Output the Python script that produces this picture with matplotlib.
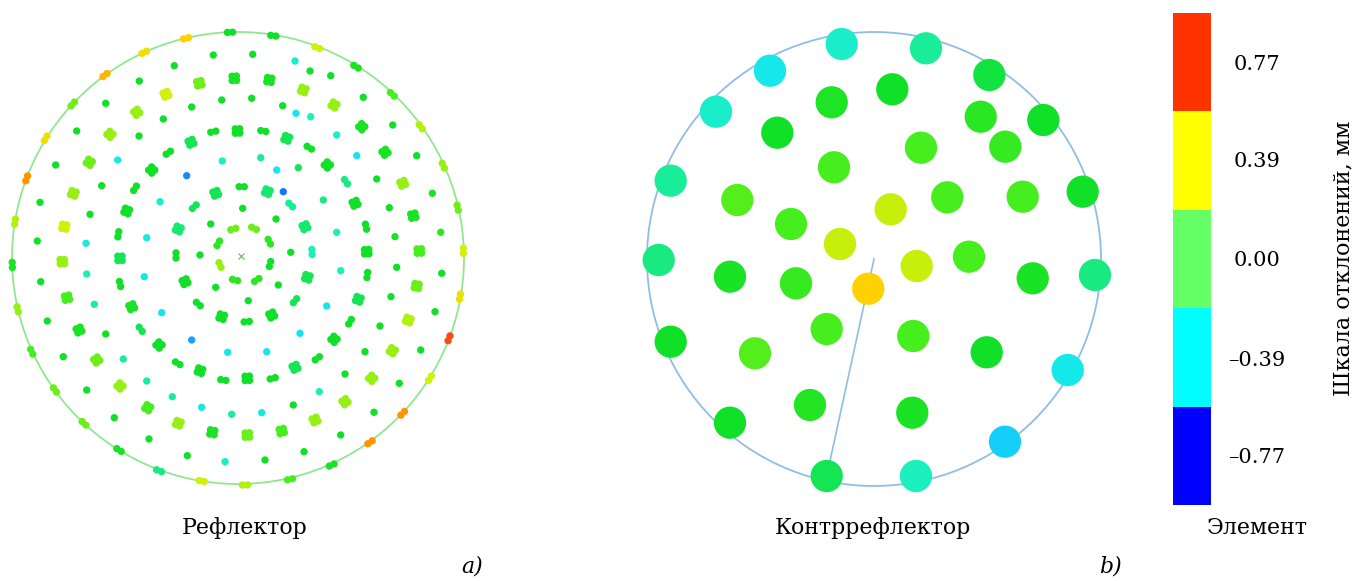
import numpy as np
import matplotlib
matplotlib.use("Agg")
import matplotlib.pyplot as plt
from matplotlib.colors import LinearSegmentedColormap, ListedColormap, BoundaryNorm, Normalize
from matplotlib.cm import ScalarMappable
from matplotlib.patches import Circle

W, H = 1367, 581
plt.rcParams['font.family'] = ['DejaVu Serif']

# ---------------- data (coordinates in units of the source picture) ----------------
# Reflector: single elements (x, y, deviation mm)
refl_single_x = [242.7, 210.7, 276, 200, 290.7, 215.7, 278.3, 248.3, 283.3,
                 222.3, 186.7, 160, 146.7, 260.7, 276.7, 298.3, 323.3, 336.7,
                 144.3, 161.7, 191.7, 227.7, 340.7, 326.7, 300, 266.7,
                 221.7, 191.7, 163.3, 139, 117.7, 101.7, 90, 86,
                 251.7, 282.7, 296, 310.7, 336.7, 356.7, 376.7, 389.3, 395,
                 86.7, 94.3, 105.7, 123.3, 146.7, 172.3, 201.7, 231.7,
                 396.7, 391, 380, 365, 345, 319.3, 293.3, 261.7,
                 213.3, 174.3, 139.3, 105.7, 76.7, 55.7, 40, 37.3,
                 252.7, 295, 310, 330.7, 363.3, 392.7, 416.7, 432.3, 440.7,
                 40.7, 47.3, 63.3, 86.7, 114.3, 149, 187.3, 225,
                 441.7, 435, 420.7, 399.3, 374, 340.7, 304, 265]
refl_single_y = [208.3, 224, 219, 255, 252.3, 287.3, 285, 300.7, 191.7,
                 161, 175.7, 201.7, 237.7, 157.7, 170, 167.7, 200, 232.3,
                 276.7, 312.7, 340, 352.3, 270.7, 306, 333.3, 351.7,
                 100, 107, 119, 136, 160, 185.7, 214.3, 243.3,
                 98.3, 105.7, 113.3, 116.7, 135, 155.7, 179, 207.7, 236.7,
                 274, 304.3, 334, 359, 381, 396.7, 407.3, 414.3,
                 267.3, 296.7, 326, 351.7, 374, 391.7, 405, 412.7,
                 55, 65.7, 81, 103.3, 131, 165, 202.3, 241,
                 54.3, 61, 71, 75.7, 97.3, 125, 155.7, 193.3, 232.3,
                 281.7, 321, 356.7, 390, 417.7, 439, 455.7, 461.7,
                 273.3, 311.7, 350, 383.3, 412.3, 435, 451.7, 460]
refl_single_v = [0, 0, 0, 0, 0, 0, 0, 0, -0.6,
                 -0.25, -0.55, -0.25, -0.28, -0.15, -0.35, -0.05, -0.1, -0.2,
                 -0.33, -0.35, -0.5, -0.35, -0.2, -0.35, -0.35, -0.35,
                 0, 0, 0, 0, -0.3, 0, 0, -0.3,
                 0, 0, -0.35, -0.2, -0.25, -0.35, 0, 0, 0.02,
                 -0.2, -0.15, 0, -0.15, -0.15, -0.15, -0.3, -0.15,
                 0, 0, 0, 0, 0, -0.2, 0, -0.3,
                 0, 0, 0, 0, 0, 0, 0, 0,
                 0, -0.25, 0, 0, 0, 0, 0, 0.02, 0.05,
                 0, 0, 0, 0, 0, 0, 0, -0.25,
                 0, 0, 0, 0, 0, 0, 0, 0]

# Reflector: paired elements
refl_pair_x = [230, 186, 144.3, 105, 72.7, 45.7, 26.7, 15,
               273.3, 317.3, 356, 392.3, 420.7, 443.3, 457.7, 463.3,
               12.3, 17.7, 31.7, 55, 84, 119, 159, 201.7,
               460, 449, 430, 402.7, 370, 331.7, 290, 245,
               213.3, 168.3, 135, 118.3, 263.3, 309.3, 346, 366,
               120, 140.7, 177.7, 223.3, 367.3, 350, 317.3, 272.7,
               241.7, 194.3, 290.7, 176, 312, 198.3, 295, 246.7,
               233.3, 254, 218.3, 269.3, 220, 270, 235, 256.7]
refl_pair_y = [32.3, 38.3, 52.3, 75, 104, 138.3, 178.3, 221.7,
               35.7, 47.7, 66.7, 94.3, 126.7, 165.7, 207.7, 250.7,
               265, 309.3, 351.7, 390, 423.3, 450, 470.7, 481,
               296.7, 338.3, 378.3, 413.3, 442.3, 465, 479.3, 485,
               131.7, 152.7, 188.3, 234.3, 131, 147.7, 181.7, 226.7,
               284, 329.3, 363.3, 380, 275, 321.7, 358.3, 378.3,
               186.7, 206.7, 205, 255.5, 252, 304, 300.7, 321.7,
               229, 228.3, 243.3, 241.7, 265, 264, 280, 280]
refl_pair_v = [0.0, 0.4, 0.35, 0.45, 0.15, 0.35, 0.5, 0.25,
               0.0, 0.3, 0.02, 0.1, 0.25, 0.2, 0.15, 0.3,
               0.02, 0.2, 0.1, 0.15, 0.15, 0.02, -0.1, 0.3,
               0.35, 0.65, 0.3, 0.5, 0.5, 0.02, 0.1, 0.25,
               0, 0, 0, 0, 0, 0, -0.1, 0,
               0, -0.05, 0, 0, 0, 0, 0, 0,
               0, -0.05, -0.15, 0, -0.2, 0, -0.05, 0,
               0.15, 0.15, 0.05, 0.05, 0.2, 0.0, 0.05, 0.05]

# Reflector: four-element clusters
refl_quad_x = [234.3, 199.3, 166, 136.7, 110, 89.3, 73.3, 64.3,
               269.3, 303.3, 334, 361.7, 385, 402.7, 413.3, 419.3,
               62.3, 67, 79, 96.7, 120, 147.7, 178.3, 212.3,
               416.7, 408.3, 392.3, 371.7, 345, 315, 281.7, 247.3,
               237.5, 191, 151.7, 126.7, 286.7, 327.3, 355, 366.7,
               120, 131.7, 159, 200, 358.3, 334, 295, 247.3,
               215.7, 267.3, 178.3, 305, 185, 307.3, 221.7, 271.7]
refl_quad_y = [78.3, 83.3, 94.3, 112.3, 134.3, 162.3, 193.3, 226.7,
               80, 90, 105, 126.7, 152.3, 183.3, 215.7, 251,
               261.7, 297.7, 330, 360, 386, 407.7, 423.3, 432.3,
               286, 320, 350.7, 378.3, 401.7, 420, 431, 435,
               131, 142.3, 170, 211, 138.3, 165, 203.3, 251.7,
               258.3, 306.7, 345, 370.7, 299.3, 339.3, 367.3, 378.3,
               193.3, 191.7, 229, 226.7, 281.7, 277.3, 316.7, 315]
refl_quad_v = [0.02, 0.15, 0.3, 0.2, 0.2, 0.15, 0.2, 0.3,
               0.02, 0.2, 0.2, 0.02, 0.02, 0.2, 0.02, 0.1,
               0.2, 0.1, 0.02, 0.15, 0.2, 0.1, 0.2, 0.02,
               0.15, 0.25, 0.2, 0.2, 0.2, 0.2, 0.1, 0.15,
               0, -0.05, 0, 0, -0.05, 0, 0, 0,
               -0.05, 0.02, 0, 0, -0.05, 0, -0.05, 0,
               -0.05, -0.08, -0.08, -0.08, 0, -0.05, 0, 0]

refl_centre = (238, 258)
refl_radius = 226
refl_ring_centre = (241, 256)

# Subreflector elements
sub_x = [841.7, 926, 770, 989.3, 716, 892.3, 831.7, 980.7, 1043.3, 777.3,
         921, 1005.3, 834, 670.7, 737.3, 947.3, 1022.7, 1082.7, 890.7, 791,
         840, 969, 658.7, 916.7, 730, 796, 868.3, 1032.7, 1095, 826.7,
         913.3, 670.7, 755, 986.7, 1067.7, 810, 912.3, 730, 1005, 826.7, 916]
sub_y = [44, 48.3, 70.7, 75, 111.7, 89.3, 102.3, 116.7, 120, 132.7,
         147.7, 146.7, 167.3, 180.7, 200, 197.3, 196.7, 191.7, 209.3, 224,
         244, 256.7, 260, 266, 276.7, 283.3, 288.7, 278.3, 275, 329,
         336, 341.7, 353.3, 352.3, 370, 405, 412.7, 422.7, 441.7, 476, 476]
sub_v = [-0.25, -0.15, -0.32, -0.03, -0.25, 0.0, 0.03, 0.05, 0.0, 0.0,
         0.1, 0.07, 0.1, -0.15, 0.12, 0.1, 0.1, 0.0, 0.28, 0.1,
         0.28, 0.1, -0.1, 0.28, 0.02, 0.07, 0.4, 0.02, -0.1, 0.1,
         0.1, 0.0, 0.12, 0.0, -0.32, 0.04, 0.02, 0.0, -0.4, -0.05, -0.22]
sub_centre = (874, 259)
sub_radius = 227
sub_line_to = 39  # index of element the radial line leads to

# Colour scale
scale_levels = [-0.77, -0.39, 0.00, 0.39, 0.77]
scale_labels = ['–0.77', '–0.39', '0.00', '0.39', '0.77']
scale_colors = ['#0000ff', '#00ffff', '#66ff66', '#ffff00', '#ff3300']
scale_bounds = [-0.965, -0.58, -0.195, 0.195, 0.58, 0.965]

# ---------------- figure ----------------
vmin, vmax = -0.77, 0.77
nodes = [(-0.77, '#0030ff'), (-0.55, '#1a8cff'), (-0.35, '#14e6f5'),
         (-0.2, '#1cf0b4'), (-0.1, '#18ea80'), (0.0, '#0ee028'),
         (0.1, '#46ee1e'), (0.2, '#96f014'), (0.3, '#d2f00a'),
         (0.4, '#ffd200'), (0.5, '#ff9600'), (0.65, '#f55014'), (0.77, '#dc2800')]
pt_cmap = LinearSegmentedColormap.from_list(
    'dev', [((v - vmin) / (vmax - vmin), c) for v, c in nodes])
pt_norm = Normalize(vmin, vmax)

fig = plt.figure(figsize=(W / 100, H / 100), dpi=100)


def px_axes(x0, y0, x1, y1):
    return fig.add_axes([x0 / W, 1 - y1 / H, (x1 - x0) / W, (y1 - y0) / H])


# ---- left: reflector ----
R = 235
axL = px_axes(refl_centre[0] - R, refl_centre[1] - R, refl_centre[0] + R, refl_centre[1] + R)
axL.set_xlim(refl_centre[0] - R, refl_centre[0] + R)
axL.set_ylim(refl_centre[1] + R, refl_centre[1] - R)
axL.axis('off')
axL.add_patch(Circle(refl_centre, refl_radius, fill=False, ec='#8fe88f', lw=1.3, zorder=1))


def frame(x, y):
    x = np.asarray(x, float)
    y = np.asarray(y, float)
    dx = x - refl_ring_centre[0]
    dy = y - refl_ring_centre[1]
    r = np.hypot(dx, dy)
    r[r == 0] = 1
    return (-dy / r, dx / r), (dx / r, dy / r)


dot_s = 28
# singles
axL.scatter(refl_single_x, refl_single_y, c=refl_single_v, cmap=pt_cmap, norm=pt_norm,
            s=dot_s, edgecolors='none', zorder=3)
# pairs
(tx, ty), _ = frame(refl_pair_x, refl_pair_y)
px = np.asarray(refl_pair_x)
py = np.asarray(refl_pair_y)
d = 2.6
for sgn in (-1, 1):
    axL.scatter(px + sgn * d * tx, py + sgn * d * ty, c=refl_pair_v, cmap=pt_cmap,
                norm=pt_norm, s=dot_s, edgecolors='none', zorder=3)
# quads
(tx, ty), (rx, ry) = frame(refl_quad_x, refl_quad_y)
qx = np.asarray(refl_quad_x)
qy = np.asarray(refl_quad_y)
d = 2.2
for a in (-1, 1):
    for b in (-1, 1):
        axL.scatter(qx + d * (a * tx + b * rx), qy + d * (a * ty + b * ry), c=refl_quad_v,
                    cmap=pt_cmap, norm=pt_norm, s=dot_s, edgecolors='none', zorder=3)
axL.plot([refl_ring_centre[0]], [refl_ring_centre[1]], marker='x', color='#50c050',
         ms=4, mew=0.8, zorder=3)

# ---- right: subreflector ----
R2 = 245
axR = px_axes(sub_centre[0] - R2, sub_centre[1] - R2, sub_centre[0] + R2, sub_centre[1] + R2)
axR.set_xlim(sub_centre[0] - R2, sub_centre[0] + R2)
axR.set_ylim(sub_centre[1] + R2, sub_centre[1] - R2)
axR.axis('off')
axR.add_patch(Circle(sub_centre, sub_radius, fill=False, ec='#8fbde8', lw=1.3, zorder=1))
axR.plot([sub_centre[0], sub_x[sub_line_to]], [sub_centre[1], sub_y[sub_line_to]],
         color='#8fbde8', lw=1.2, zorder=1)
axR.scatter(sub_x, sub_y, c=sub_v, cmap=pt_cmap, norm=pt_norm, s=540,
            edgecolors='none', zorder=3)

# ---- colour bar ----
cax = px_axes(1173, 13, 1211, 505)
cb = fig.colorbar(ScalarMappable(norm=BoundaryNorm(scale_bounds, len(scale_colors)),
                                 cmap=ListedColormap(scale_colors)), cax=cax,
                  ticks=scale_levels)
cb.outline.set_visible(False)
cb.set_ticklabels(scale_labels)
cax.minorticks_off()
cax.tick_params(which='both', length=0, pad=33, labelsize=15)
for lab in cax.get_yticklabels():
    lab.set_horizontalalignment('center')

fs = 15.8
fig.text(1343 / W, 1 - 258 / H, 'Шкала отклонений, мм', rotation=90, ha='center',
         va='center', fontsize=16)
fig.text(245 / W, 1 - 528 / H, 'Рефлектор', ha='center', va='center', fontsize=fs)
fig.text(873 / W, 1 - 528 / H, 'Контррефлектор', ha='center', va='center', fontsize=fs)
fig.text(1257 / W, 1 - 528 / H, 'Элемент', ha='center', va='center', fontsize=fs)
fig.text(472 / W, 1 - 566 / H, 'a)', ha='center', va='center', fontsize=fs, style='italic')
fig.text(1110 / W, 1 - 566 / H, 'b)', ha='center', va='center', fontsize=fs, style='italic')

fig.savefig('out.png', dpi=100)
